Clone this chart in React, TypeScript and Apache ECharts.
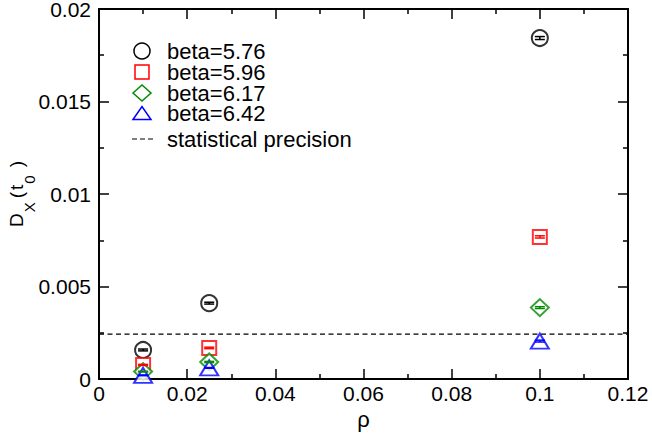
import React, { useEffect, useRef } from "react";
import * as echarts from "echarts";

const rho = [0.01, 0.025, 0.1];
const beta576 = [0.00157, 0.0041, 0.01843];
const beta596 = [0.00076, 0.00168, 0.00768];
const beta617 = [0.0004, 0.00092, 0.00386];
const beta642 = [0.0002, 0.0006, 0.00205];
const err576 = [0.00005, 0.00005, 0.00008];
const err596 = [0.00003, 0.00004, 0.00006];
const err617 = [0.00002, 0.00003, 0.00005];
const err642 = [0.00002, 0.00002, 0.00005];
const precision = 0.00243;
const xRange = [0, 0.12];
const seriesNames = ["beta=5.76", "beta=5.96", "beta=6.17", "beta=6.42", "statistical precision"];

const FONT = "'Liberation Sans', Arial, Helvetica, sans-serif";
const COLORS = ["#000000", "#ff0000", "#008b00", "#0000ff"];

export default function App() {
  const ref = useRef<HTMLDivElement>(null);
  useEffect(() => {
    document.body.style.margin = "0";
    const chart = echarts.init(ref.current!, null, { renderer: "svg" });
    const groups = [
      { name: seriesNames[0], vals: beta576, errs: err576, color: COLORS[0], symbol: "emptyCircle", size: 16 },
      { name: seriesNames[1], vals: beta596, errs: err596, color: COLORS[1], symbol: "emptyRect", size: 14 },
      { name: seriesNames[2], vals: beta617, errs: err617, color: COLORS[2], symbol: "emptyDiamond", size: [18, 17] },
      { name: seriesNames[3], vals: beta642, errs: err642, color: COLORS[3], symbol: "emptyTriangle", size: [18, 15] },
    ];
    const scatter = groups.map((g) => ({
      name: g.name,
      type: "scatter",
      symbol: g.symbol,
      symbolSize: g.size,
      itemStyle: { color: g.color, borderColor: g.color, borderWidth: 1.5 },
      data: rho.map((x, i) => [x, g.vals[i]]),
      z: 3,
    }));
    const errSeries = groups.map((g) => ({
      name: "err " + g.name,
      type: "custom",
      data: rho.map((x, i) => [x, g.vals[i], g.errs[i]]),
      z: 4,
      renderItem: (params: any, api: any) => {
        const x = api.value(0);
        const y = api.value(1);
        const e = api.value(2);
        const lo = api.coord([x, y - e]);
        const hi = api.coord([x, y + e]);
        const w = 5;
        const style = { stroke: g.color, lineWidth: 1.5 };
        return {
          type: "group",
          children: [
            { type: "line", shape: { x1: lo[0], y1: lo[1], x2: hi[0], y2: hi[1] }, style },
            { type: "line", shape: { x1: lo[0] - w, y1: lo[1], x2: lo[0] + w, y2: lo[1] }, style },
            { type: "line", shape: { x1: hi[0] - w, y1: hi[1], x2: hi[0] + w, y2: hi[1] }, style },
          ],
        };
      },
    }));
    const axisCommon = {
      axisLine: { show: true, onZero: false, lineStyle: { color: "#000", width: 2 } },
      axisTick: { show: true, inside: true, length: 10, lineStyle: { color: "#000", width: 1.5 } },
      minorTick: { show: true, splitNumber: 2, length: 5, lineStyle: { color: "#000", width: 1.5 } },
      splitLine: { show: false },
    };

    // legend drawn with graphic elements
    const rowY = [51, 72, 93, 113, 139];
    const iconX = 142;
    const textX = 167;
    const stroke = (c: string) => ({ fill: "none", stroke: c, lineWidth: 1.5 });
    const legendGraphics: any[] = [
      { type: "circle", shape: { cx: iconX, cy: rowY[0], r: 8 }, style: stroke(COLORS[0]) },
      { type: "rect", shape: { x: iconX - 7, y: rowY[1] - 7, width: 14, height: 14 }, style: stroke(COLORS[1]) },
      {
        type: "polygon",
        shape: { points: [[iconX - 9, rowY[2]], [iconX, rowY[2] - 8], [iconX + 9, rowY[2]], [iconX, rowY[2] + 8]] },
        style: stroke(COLORS[2]),
      },
      {
        type: "polygon",
        shape: { points: [[iconX - 9, rowY[3] + 6.5], [iconX, rowY[3] - 6.5], [iconX + 9, rowY[3] + 6.5]] },
        style: stroke(COLORS[3]),
      },
      {
        type: "line",
        shape: { x1: iconX - 10, y1: rowY[4], x2: iconX + 11, y2: rowY[4] },
        style: { stroke: "#000", lineWidth: 1.2, lineDash: [5, 3] },
      },
      ...seriesNames.map((n, i) => ({
        type: "text",
        x: textX,
        y: rowY[i],
        style: {
          text: n, fontSize: 22, lineHeight: 20, fontFamily: FONT, fill: "#000",
          verticalAlign: "middle", align: "left",
        },
      })),
    ];

    chart.setOption({
      animation: false,
      backgroundColor: "#fff",
      textStyle: { fontFamily: FONT },
      grid: { left: 99, right: 24, top: 9, bottom: 57, outerBoundsMode: "none", containLabel: false },
      graphic: legendGraphics,
      xAxis: [
        {
          type: "value",
          min: xRange[0],
          max: xRange[1],
          interval: 0.02,
          name: "ρ",
          nameLocation: "middle",
          nameGap: 29,
          nameMoveOverlap: false,
          nameTextStyle: { fontSize: 22, color: "#000", fontFamily: FONT },
          axisLabel: { fontSize: 21, color: "#000", margin: 4, fontFamily: FONT },
          ...axisCommon,
        },
        {
          type: "value",
          position: "top",
          min: xRange[0],
          max: xRange[1],
          interval: 0.02,
          axisLabel: { show: false },
          ...axisCommon,
        },
      ],
      yAxis: [
        {
          type: "value",
          min: 0,
          max: 0.02,
          interval: 0.005,
          name: "{a|D}{s|X}{p|(}{a|t}{s|0}{q|)}",
          nameLocation: "middle",
          nameGap: 73,
          nameMoveOverlap: false,
          nameTextStyle: {
            color: "#000",
            fontFamily: FONT,
            rich: {
              a: { fontSize: 19, color: "#000", fontFamily: FONT, verticalAlign: "top", lineHeight: 19 },
              p: {
                fontSize: 19, color: "#000", fontFamily: FONT, verticalAlign: "top", lineHeight: 19,
                padding: [0, 2, 0, 4],
              },
              q: {
                fontSize: 19, color: "#000", fontFamily: FONT, verticalAlign: "top", lineHeight: 19,
                padding: [0, 0, 0, 8],
              },
              s: {
                fontSize: 15, color: "#000", fontFamily: FONT, verticalAlign: "top", lineHeight: 15,
                padding: [15, 0, 0, 1],
              },
            },
          },
          axisLabel: { fontSize: 21, lineHeight: 18, color: "#000", margin: 8, fontFamily: FONT },
          ...axisCommon,
        },
        {
          type: "value",
          position: "right",
          min: 0,
          max: 0.02,
          interval: 0.005,
          axisLabel: { show: false },
          ...axisCommon,
        },
      ],
      series: [
        ...scatter,
        ...errSeries,
        {
          name: seriesNames[4],
          type: "line",
          showSymbol: false,
          symbol: "none",
          data: [
            [xRange[0], precision],
            [xRange[1], precision],
          ],
          lineStyle: { color: "#000", width: 1.2, type: [5, 3.5] },
          itemStyle: { color: "#000" },
          z: 2,
        },
      ],
    });
    return () => chart.dispose();
  }, []);
  return <div ref={ref} style={{ width: 652, height: 436 }} />;
}
